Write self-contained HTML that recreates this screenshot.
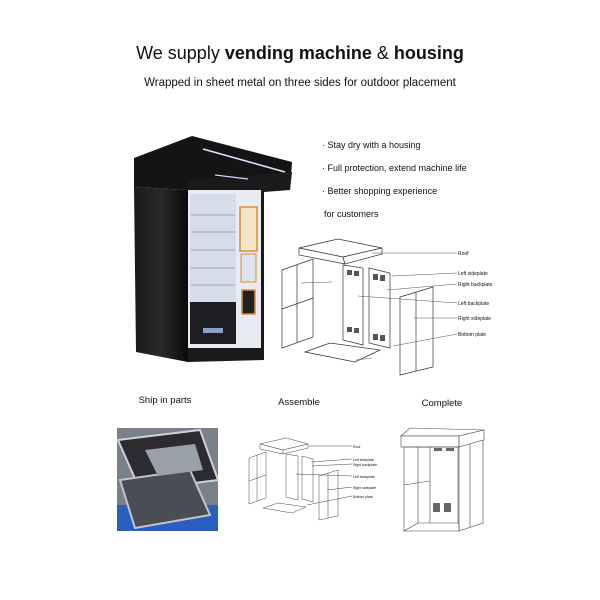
<!DOCTYPE html>
<html><head><meta charset="utf-8"><style>
html,body{margin:0;padding:0;background:#fff;width:600px;height:600px;overflow:hidden}
svg{display:block}
text{font-family:"Liberation Sans",sans-serif;fill:#111}
</style></head><body>
<svg width="600" height="600" viewBox="0 0 600 600">
<defs>
<linearGradient id="side" x1="0" x2="1" y1="0" y2="0">
<stop offset="0" stop-color="#1a1a1a"/><stop offset="0.5" stop-color="#2a2a2c"/><stop offset="1" stop-color="#0a0a0a"/>
</linearGradient>
</defs>
<text x="300" y="59" text-anchor="middle" font-size="18">We supply <tspan font-weight="bold">vending machine</tspan> &amp; <tspan font-weight="bold">housing</tspan></text>
<text x="300" y="86" text-anchor="middle" font-size="11.5">Wrapped in sheet metal on three sides for outdoor placement</text>

<!-- vending machine housing -->
<polygon points="134,158 192,136 292,162 290,190 188,190 134,187" fill="#141414"/>
<polygon points="134,187 188,190 188,362 136,352" fill="url(#side)"/>
<polygon points="188,180 292,172 290,190 264,192 264,360 188,362" fill="#1a1a1a"/>
<line x1="203" y1="149" x2="285" y2="172" stroke="#dce6ff" stroke-width="1.5"/>
<line x1="215" y1="175" x2="248" y2="179" stroke="#c8d8ff" stroke-width="1.2"/>
<rect x="188" y="190" width="73" height="158" fill="#e8ecf2"/>
<rect x="190" y="194" width="46" height="108" fill="#d4dde8"/>
<g stroke="#9aa8b8" stroke-width="1">
<line x1="191" y1="215" x2="235" y2="215"/><line x1="191" y1="232" x2="235" y2="232"/>
<line x1="191" y1="250" x2="235" y2="250"/><line x1="191" y1="268" x2="235" y2="268"/>
<line x1="191" y1="285" x2="235" y2="285"/></g>
<rect x="190" y="302" width="46" height="42" fill="#1d1d22"/>
<rect x="203" y="328" width="20" height="5" fill="#8aa0c8"/>
<rect x="240" y="207" width="17" height="44" fill="#f2e6c8" stroke="#d8902a" stroke-width="1.5"/>
<rect x="241" y="254" width="15" height="28" fill="#dde4ee" stroke="#d8902a" stroke-width="1"/>
<rect x="242" y="290" width="13" height="24" fill="#222" stroke="#d8902a" stroke-width="1.5"/>

<!-- bullets -->
<g font-size="9">
<text x="322" y="148">· Stay dry with a housing</text>
<text x="322" y="171">· Full protection, extend machine life</text>
<text x="322" y="194">· Better shopping experience</text>
<text x="324" y="217">for customers</text>
</g>

<!-- exploded diagram -->
<g fill="#fff" stroke="#333" stroke-width="0.7">
<polygon points="299,248 338,239 382,248 343,257"/>
<polygon points="299,248 343,257 345,264 299,255"/>
<polygon points="343,257 382,248 382,254 345,264"/>
<polygon points="282,270 313,259 313,337 282,348"/>
<line x1="297" y1="265" x2="297" y2="342"/><line x1="282" y1="309" x2="313" y2="298"/>
<polygon points="343,265 363,268 363,345 343,340"/>
<polygon points="369,268 390,273 390,348 369,343"/>
<polygon points="400,297 433,287 433,367 400,375"/>
<line x1="416" y1="292" x2="416" y2="371"/>
<polygon points="305,352 330,343 380,350 355,362"/>
</g>
<g fill="#555">
<rect x="347" y="270" width="5" height="5"/><rect x="354" y="271" width="5" height="5"/>
<rect x="347" y="327" width="5" height="5"/><rect x="354" y="328" width="5" height="5"/>
<rect x="373" y="274" width="5" height="6"/><rect x="380" y="275" width="5" height="6"/>
<rect x="373" y="334" width="5" height="6"/><rect x="380" y="335" width="5" height="6"/>
</g>
<g stroke="#555" stroke-width="0.5">
<line x1="372" y1="253" x2="457" y2="253"/><line x1="392" y1="276" x2="457" y2="273"/>
<line x1="387" y1="290" x2="457" y2="284"/><line x1="358" y1="296" x2="457" y2="303"/>
<line x1="414" y1="318" x2="457" y2="318"/><line x1="393" y1="346" x2="457" y2="334"/>
<line x1="301" y1="283" x2="332" y2="282"/><line x1="356" y1="360" x2="372" y2="358"/>
</g>
<g font-size="5">
<text x="458" y="255">Roof</text><text x="458" y="275">Left sideplate</text>
<text x="458" y="286">Right backplate</text><text x="458" y="305">Left backplate</text>
<text x="458" y="320">Right sideplate</text><text x="458" y="336">Bottom plate</text>
</g>

<!-- captions -->
<g font-size="9.5">
<text x="165" y="403" text-anchor="middle">Ship in parts</text>
<text x="299" y="405" text-anchor="middle">Assemble</text>
<text x="442" y="406" text-anchor="middle">Complete</text>
</g>

<!-- photo -->
<rect x="117" y="428" width="101" height="103" fill="#7a808a"/>
<rect x="117" y="505" width="101" height="26" fill="#2a5fc0"/>
<polygon points="118,440 200,430 218,480 140,490" fill="#2b2b30" stroke="#cfd2d6" stroke-width="2"/>
<polygon points="120,480 190,470 210,515 135,528" fill="#4a4d54" stroke="#c2c6cc" stroke-width="2"/>
<polygon points="145,450 195,444 203,470 158,476" fill="#9aa0a8"/>

<!-- small assemble diagram -->
<g fill="#fff" stroke="#444" stroke-width="0.5">
<polygon points="260,444 286,438 308,444 283,450"/>
<polygon points="260,444 283,450 283,454 260,449"/>
<polygon points="283,450 308,444 308,448 283,454"/>
<polygon points="249,458 266,452 266,498 249,504"/>
<line x1="257" y1="455" x2="257" y2="501"/><line x1="249" y1="481" x2="266" y2="475"/>
<polygon points="286,454 298,456 298,500 286,497"/>
<polygon points="302,456 313,459 313,502 302,499"/>
<polygon points="319,476 338,470 338,516 319,520"/>
<line x1="328" y1="473" x2="328" y2="518"/>
<polygon points="263,508 278,503 306,507 292,513"/>
<line x1="309" y1="446" x2="352" y2="446"/><line x1="312" y1="462" x2="352" y2="459"/>
<line x1="312" y1="466" x2="352" y2="464"/><line x1="296" y1="474" x2="352" y2="476"/>
<line x1="327" y1="490" x2="352" y2="487"/><line x1="307" y1="505" x2="352" y2="496"/>
</g>
<g font-size="3.5"><text x="353" y="448">Roof</text><text x="353" y="461">Left sideplate</text>
<text x="353" y="466">Right backplate</text><text x="353" y="478">Left backplate</text>
<text x="353" y="489">Right sideplate</text><text x="353" y="498">Bottom plate</text></g>

<!-- complete -->
<g fill="#fff" stroke="#444" stroke-width="0.6">
<polygon points="401,436 410,428 484,430 459,436"/>
<rect x="401" y="436" width="58" height="11"/>
<polygon points="459,436 484,430 484,440 459,447"/>
<polygon points="459,447 483,440 483,523 459,531"/>
<line x1="404" y1="447" x2="404" y2="531"/><line x1="459" y1="447" x2="404" y2="447"/>
<line x1="418" y1="447" x2="418" y2="523"/><line x1="430" y1="447" x2="430" y2="523"/>
<line x1="404" y1="485" x2="430" y2="481"/><line x1="458" y1="447" x2="458" y2="523"/>
<polygon points="404,531 459,531 459,523 418,523"/>
<line x1="470" y1="444" x2="470" y2="527"/>
</g>
<g fill="#666"><rect x="434" y="448" width="8" height="3"/><rect x="446" y="448" width="8" height="3"/>
<rect x="433" y="503" width="7" height="9"/><rect x="444" y="503" width="7" height="9"/></g>
</svg>
</body></html>
